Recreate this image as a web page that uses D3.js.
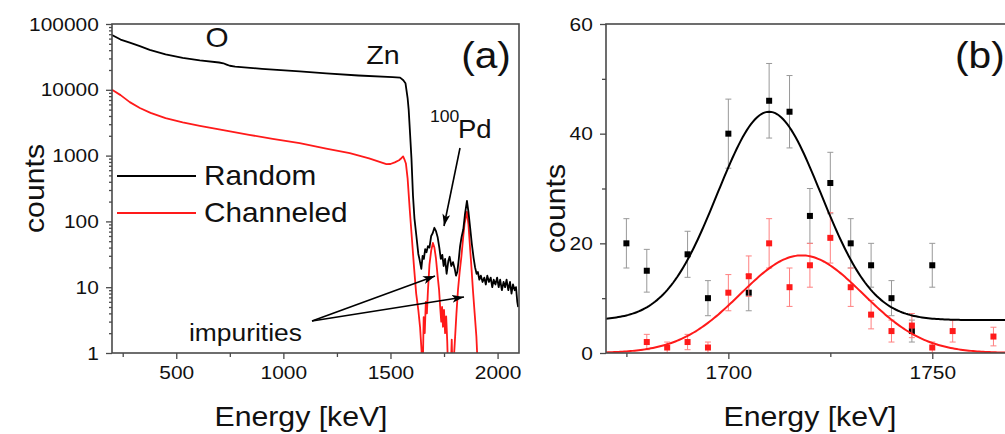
<!DOCTYPE html>
<html>
<head>
<meta charset="utf-8">
<script src="https://cdn.jsdelivr.net/npm/d3@7"></script>
<style>
  body { margin: 0; background: #fff; }
  svg { display: block; font-family: "Liberation Sans", Arial, sans-serif; }
</style>
</head>
<body>
<div id="chart"></div>
<script>
// ---- data ----
// panel (a): RBS spectra, [energy keV, counts]
const randomSpectrum = [
  [200,68000],[240,58000],[283,52000],[330,46000],[376,40500],[450,34500],[530,30500],[610,27900],
  [700,26000],[720,25300],[735,24200],[750,23200],[775,22500],[900,20800],[1076,19000],[1200,17800],[1350,16500],
  [1510,15600],[1545,15300],[1560,14000],[1570,12600],[1580,7500],[1585,5000],[1592,2000],[1598,900],
  [1605,250],[1612,110],[1621,60],[1630,32],[1636,26],[1644,19],[1650,30],[1656,27],[1662,38],[1668,34],
  [1675,42],[1682,40],[1690,60],[1697,66],[1705,80],[1712,72],[1720,58],[1728,40],[1735,27],[1742,31],
  [1748,21],[1755,27],[1762,16],[1770,25],[1776,29],[1784,21],[1792,24],[1800,19],[1806,15],[1812,17],
  [1818,25],[1825,42],[1832,58],[1840,76],[1848,130],[1857,205],[1864,140],[1872,80],[1880,45],[1888,28],
  [1895,20],[1902,16],[1908,17],[1915,13],[1922,15],[1930,12],[1938,14],[1945,11],[1952,15],[1960,12],
  [1968,14],[1975,10],[1982,13],[1990,11],[1998,14],[2005,10],[2012,13],[2020,9],[2028,12],[2035,10],
  [2042,13],[2050,9],[2058,12],[2065,8],[2072,11],[2080,9],[2086,10],[2092,6],[2096,5]
];
const channeledSpectrum = [
  [200,10000],[240,8300],[283,6500],[330,5300],[380,4450],[450,3700],[530,3200],[610,2830],[700,2500],
  [840,2070],[950,1800],[1076,1550],[1200,1280],[1310,1090],[1400,910],[1481,740],[1500,745],[1520,790],
  [1540,850],[1552,920],[1559,970],[1565,880],[1572,760],[1580,450],[1590,150],[1600,55],[1610,20],
  [1620,8],[1630,4.5],[1638,2.5],[1645,1.1],[1650,0.4],[1655,3.5],[1660,2],[1665,6],[1670,4],[1675,9],
  [1682,22],[1690,36],[1698,47],[1705,40],[1712,28],[1720,15],[1727,9],[1732,5],[1737,3],[1741,5],
  [1745,2.5],[1750,4.5],[1755,2],[1760,3.6],[1765,1.5],[1770,0.4],[1780,0.4],[1786,1.6],[1790,0.4],
  [1800,1.4],[1808,4],[1815,9],[1823,17],[1831,29],[1840,60],[1846,93],[1857,140],[1864,90],[1870,47],
  [1878,20],[1885,9],[1893,4],[1901,1.8],[1910,0.4],[2100,0.4]
];
const logTicks = [1, 10, 100, 1000, 10000, 100000];
const energyTicksA = [500, 1000, 1500, 2000];

// panel (b): Pd peak, energy / counts / error
const randomE   = [1675,1680,1690,1695,1700,1705,1710,1715,1720,1725,1730,1735,1740,1745,1750];
const randomN   = [20, 15, 18, 10, 40, 11, 46, 44, 25, 31, 20, 16, 10, 4, 16];
const randomErr = [4.5,3.9,4.2,3.2,6.3,3.3,6.8,6.6,5.0,5.6,4.5,4.0,3.2,2.0,4.0];
const channeledE   = [1680,1685,1690,1695,1700,1705,1710,1715,1720,1725,1730,1735,1740,1745,1750,1755,1765];
const channeledN   = [2, 1, 2, 1, 11, 14, 20, 12, 16, 21, 12, 7, 4, 5, 1, 4, 3];
const channeledErr = [1.4,1.0,1.4,1.0,3.3,3.7,4.5,3.5,4.0,4.6,3.5,2.6,2.0,2.2,1.0,2.0,1.7];
// gaussian fits: [baseline, amplitude, centre, sigma]
const randomFit    = [6, 38, 1710, 12.7];
const channeledFit = [0, 17.8, 1718, 15];
const countTicksB  = [0, 20, 40, 60];
const energyTicksB = [1700, 1750];

const W = 1005, H = 434;
const axisColor = "#4a4a4a";
const stretch = "scale(1.1,1)";

const svg = d3.select("#chart").append("svg")
  .attr("width", W).attr("height", H);
svg.append("rect").attr("width", W).attr("height", H).attr("fill", "#fff");

const defs = svg.append("defs");
defs.append("marker")
  .attr("id", "head")
  .attr("viewBox", "0 0 12 8")
  .attr("refX", 12).attr("refY", 4)
  .attr("markerWidth", 12).attr("markerHeight", 8)
  .attr("markerUnits", "userSpaceOnUse")
  .attr("orient", "auto")
  .append("path").attr("d", "M0,0 L12,4 L0,8 L3,4 Z").attr("fill", "#000");

function label(x, y, txt, size, anchor, sx) {
  return svg.append("text")
    .attr("transform", `translate(${x},${y}) scale(${sx || 1.1},1)`)
    .attr("text-anchor", anchor || "start")
    .attr("font-size", size)
    .attr("fill", "#111")
    .text(txt);
}

function styleAxis(g) {
  g.select(".domain").remove();
  g.selectAll("line").attr("stroke", axisColor).attr("stroke-width", 1.3);
  g.selectAll("text").attr("font-size", 19).attr("fill", "#111")
    .attr("font-family", "Liberation Sans, Arial, sans-serif")
    .attr("transform", stretch);
}

// ================= panel (a) =================
const a = { left: 112, top: 24, right: 519, bottom: 353 };
const xA = d3.scaleLinear().domain([200, 2100]).range([a.left, a.right]);
const yA = d3.scaleLog().domain([1, 100000]).range([a.bottom, a.top]);

defs.append("clipPath").attr("id", "clipA").append("rect")
  .attr("x", a.left).attr("y", a.top)
  .attr("width", a.right - a.left).attr("height", a.bottom - a.top);

const minorLog = [];
logTicks.slice(0, -1).forEach(d => { for (let k = 2; k < 10; k++) minorLog.push(d * k); });

svg.append("g").attr("transform", `translate(${a.left},0)`)
  .call(d3.axisLeft(yA).tickValues(minorLog).tickSize(3).tickFormat(""))
  .call(styleAxis);
svg.append("g").attr("transform", `translate(${a.left},0)`)
  .call(d3.axisLeft(yA).tickValues(logTicks).tickSize(6).tickPadding(6).tickFormat(d3.format("d")))
  .call(styleAxis);
svg.append("g").attr("transform", `translate(0,${a.bottom})`)
  .call(d3.axisBottom(xA).tickValues([250, 750, 1250, 1750]).tickSize(4).tickFormat(""))
  .call(styleAxis);
svg.append("g").attr("transform", `translate(0,${a.bottom})`)
  .call(d3.axisBottom(xA).tickValues(energyTicksA).tickSize(6).tickPadding(7).tickFormat(d3.format("d")))
  .call(styleAxis);

const lineA = d3.line().x(d => xA(d[0])).y(d => yA(d[1]));
const plotA = svg.append("g").attr("clip-path", "url(#clipA)");
plotA.append("path").datum(channeledSpectrum)
  .attr("d", lineA).attr("fill", "none").attr("stroke", "#ff1a1a")
  .attr("stroke-width", 1.8).attr("stroke-linejoin", "round");
plotA.append("path").datum(randomSpectrum)
  .attr("d", lineA).attr("fill", "none").attr("stroke", "#000")
  .attr("stroke-width", 1.8).attr("stroke-linejoin", "round");

svg.append("rect")
  .attr("x", a.left).attr("y", a.top)
  .attr("width", a.right - a.left).attr("height", a.bottom - a.top)
  .attr("fill", "none").attr("stroke", axisColor).attr("stroke-width", 1.6);

// legend
svg.append("line").attr("x1", 117).attr("x2", 196).attr("y1", 176).attr("y2", 176)
  .attr("stroke", "#000").attr("stroke-width", 1.8);
label(204, 185, "Random", 27);
svg.append("line").attr("x1", 117).attr("x2", 196).attr("y1", 213).attr("y2", 213)
  .attr("stroke", "#ff1a1a").attr("stroke-width", 1.8);
label(204, 222, "Channeled", 27);

// annotations
label(217, 47, "O", 27, "middle");
label(383, 64, "Zn", 26, "middle");
label(486, 68, "(a)", 37, "middle");
label(430, 122, "100", 16);
label(458, 138, "Pd", 25);
svg.append("line").attr("x1", 460).attr("y1", 148).attr("x2", 444).attr("y2", 226)
  .attr("stroke", "#000").attr("stroke-width", 1.6).attr("marker-end", "url(#head)");
label(189, 341, "impurities", 24);
svg.append("line").attr("x1", 312).attr("y1", 321).attr("x2", 435).attr("y2", 276)
  .attr("stroke", "#000").attr("stroke-width", 1.6).attr("marker-end", "url(#head)");
svg.append("line").attr("x1", 312).attr("y1", 321).attr("x2", 464).attr("y2", 297)
  .attr("stroke", "#000").attr("stroke-width", 1.6).attr("marker-end", "url(#head)");

// axis titles
label(301, 426, "Energy [keV]", 28, "middle", 1.08);
svg.append("text")
  .attr("transform", `translate(44,${(a.top + a.bottom) / 2}) rotate(-90) scale(1.08,1)`)
  .attr("text-anchor", "middle").attr("font-size", 28).attr("fill", "#111")
  .text("counts");

// ================= panel (b) =================
const b = { left: 606, top: 24, right: 1022, bottom: 353 };
const xB = d3.scaleLinear().domain([1670, 1772]).range([b.left, b.right]);
const yB = d3.scaleLinear().domain([0, 60]).range([b.bottom, b.top]);

defs.append("clipPath").attr("id", "clipB").append("rect")
  .attr("x", b.left).attr("y", b.top - 10)
  .attr("width", b.right - b.left).attr("height", b.bottom - b.top + 10);

svg.append("g").attr("transform", `translate(${b.left},0)`)
  .call(d3.axisLeft(yB).tickValues([10, 30, 50]).tickSize(4).tickFormat(""))
  .call(styleAxis);
svg.append("g").attr("transform", `translate(${b.left},0)`)
  .call(d3.axisLeft(yB).tickValues(countTicksB).tickSize(6).tickPadding(6))
  .call(styleAxis);
svg.append("g").attr("transform", `translate(0,${b.bottom})`)
  .call(d3.axisBottom(xB).tickValues([1675, 1725, 1775]).tickSize(4).tickFormat(""))
  .call(styleAxis);
svg.append("g").attr("transform", `translate(0,${b.bottom})`)
  .call(d3.axisBottom(xB).tickValues(energyTicksB).tickSize(6).tickPadding(7).tickFormat(d3.format("d")))
  .call(styleAxis);

const plotB = svg.append("g").attr("clip-path", "url(#clipB)");

function drawPoints(E, N, err, color, barColor) {
  const pts = E.map((e, i) => ({ e, n: N[i], s: err[i] }));
  const g = plotB.append("g");
  const bars = g.selectAll("g.bar").data(pts).enter().append("g")
    .attr("stroke", barColor).attr("stroke-width", 1);
  bars.append("line").attr("x1", d => xB(d.e)).attr("x2", d => xB(d.e))
    .attr("y1", d => yB(d.n - d.s)).attr("y2", d => yB(d.n + d.s));
  bars.append("line").attr("x1", d => xB(d.e) - 3).attr("x2", d => xB(d.e) + 3)
    .attr("y1", d => yB(d.n + d.s)).attr("y2", d => yB(d.n + d.s));
  bars.append("line").attr("x1", d => xB(d.e) - 3).attr("x2", d => xB(d.e) + 3)
    .attr("y1", d => yB(d.n - d.s)).attr("y2", d => yB(d.n - d.s));
  g.selectAll("rect").data(pts).enter().append("rect")
    .attr("x", d => xB(d.e) - 3).attr("y", d => yB(d.n) - 3)
    .attr("width", 6).attr("height", 6).attr("fill", color);
}
drawPoints(randomE, randomN, randomErr, "#000", "#999");
drawPoints(channeledE, channeledN, channeledErr, "#ff1a1a", "#ff8080");

function gaussLine(p) {
  const [base, amp, mu, sig] = p;
  const es = d3.range(1670, 1772.5, 0.5);
  return d3.line().x(e => xB(e)).y(e => yB(base + amp * Math.exp(-((e - mu) ** 2) / (2 * sig * sig))))(es);
}
plotB.append("path").attr("d", gaussLine(randomFit))
  .attr("fill", "none").attr("stroke", "#000").attr("stroke-width", 2);
plotB.append("path").attr("d", gaussLine(channeledFit))
  .attr("fill", "none").attr("stroke", "#ff1a1a").attr("stroke-width", 2);

svg.append("rect")
  .attr("x", b.left).attr("y", b.top)
  .attr("width", b.right - b.left).attr("height", b.bottom - b.top)
  .attr("fill", "none").attr("stroke", axisColor).attr("stroke-width", 1.6);

label(955, 68, "(b)", 37);
label(810, 426, "Energy [keV]", 28, "middle", 1.08);
svg.append("text")
  .attr("transform", `translate(565,${(b.top + b.bottom) / 2 + 20}) rotate(-90) scale(1.08,1)`)
  .attr("text-anchor", "middle").attr("font-size", 28).attr("fill", "#111")
  .text("counts");
</script>
</body>
</html>
